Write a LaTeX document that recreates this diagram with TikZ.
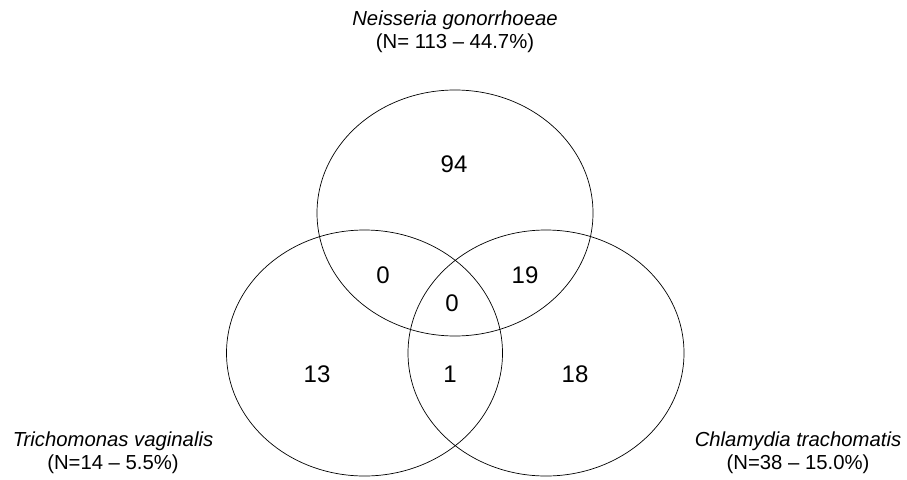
\documentclass[tikz,border=0pt]{standalone}
\usepackage{fontspec}
\setmainfont{Liberation Sans}
\usetikzlibrary{shapes.geometric}
\tikzset{
  setring/.style={draw=black, shape=ellipse, line width=0.7pt, minimum width=276pt, minimum height=246pt, inner sep=0pt},
  count/.style={text=black, inner sep=0pt, font=\fontsize{24}{28}\selectfont},
  species/.style={text=black, inner sep=0pt, align=center, anchor=base, font=\fontsize{20.3}{23}\selectfont}
}
\begin{document}
\begin{tikzpicture}[x=1pt, y=-1pt]
	\useasboundingbox (0,0) rectangle (907,479);

	\node[setring] (s_ng) at (455,213) {};
	\node[setring] (s_tv) at (364.5,353) {};
	\node[setring] (s_ct) at (546,353) {};

	\node[count] (c_ng) at (454,164) {94};
	\node[count] (c_ng_tv) at (383,275) {0};
	\node[count] (c_ng_ct) at (525,275) {19};
	\node[count] (c_all) at (452,303) {0};
	\node[count] (c_tv) at (317,374) {13};
	\node[count] (c_tv_ct) at (450,374) {1};
	\node[count] (c_ct) at (575,374) {18};

	\node[species] (l_ng) at (455,48) {\textit{Neisseria gonorrhoeae}\\(N= 113 – 44.7\%)};
	\node[species] (l_tv) at (113,469) {\textit{Trichomonas vaginalis}\\(N=14 – 5.5\%)};
	\node[species] (l_ct) at (798,469) {\textit{Chlamydia trachomatis}\\(N=38 – 15.0\%)};
\end{tikzpicture}
\end{document}
